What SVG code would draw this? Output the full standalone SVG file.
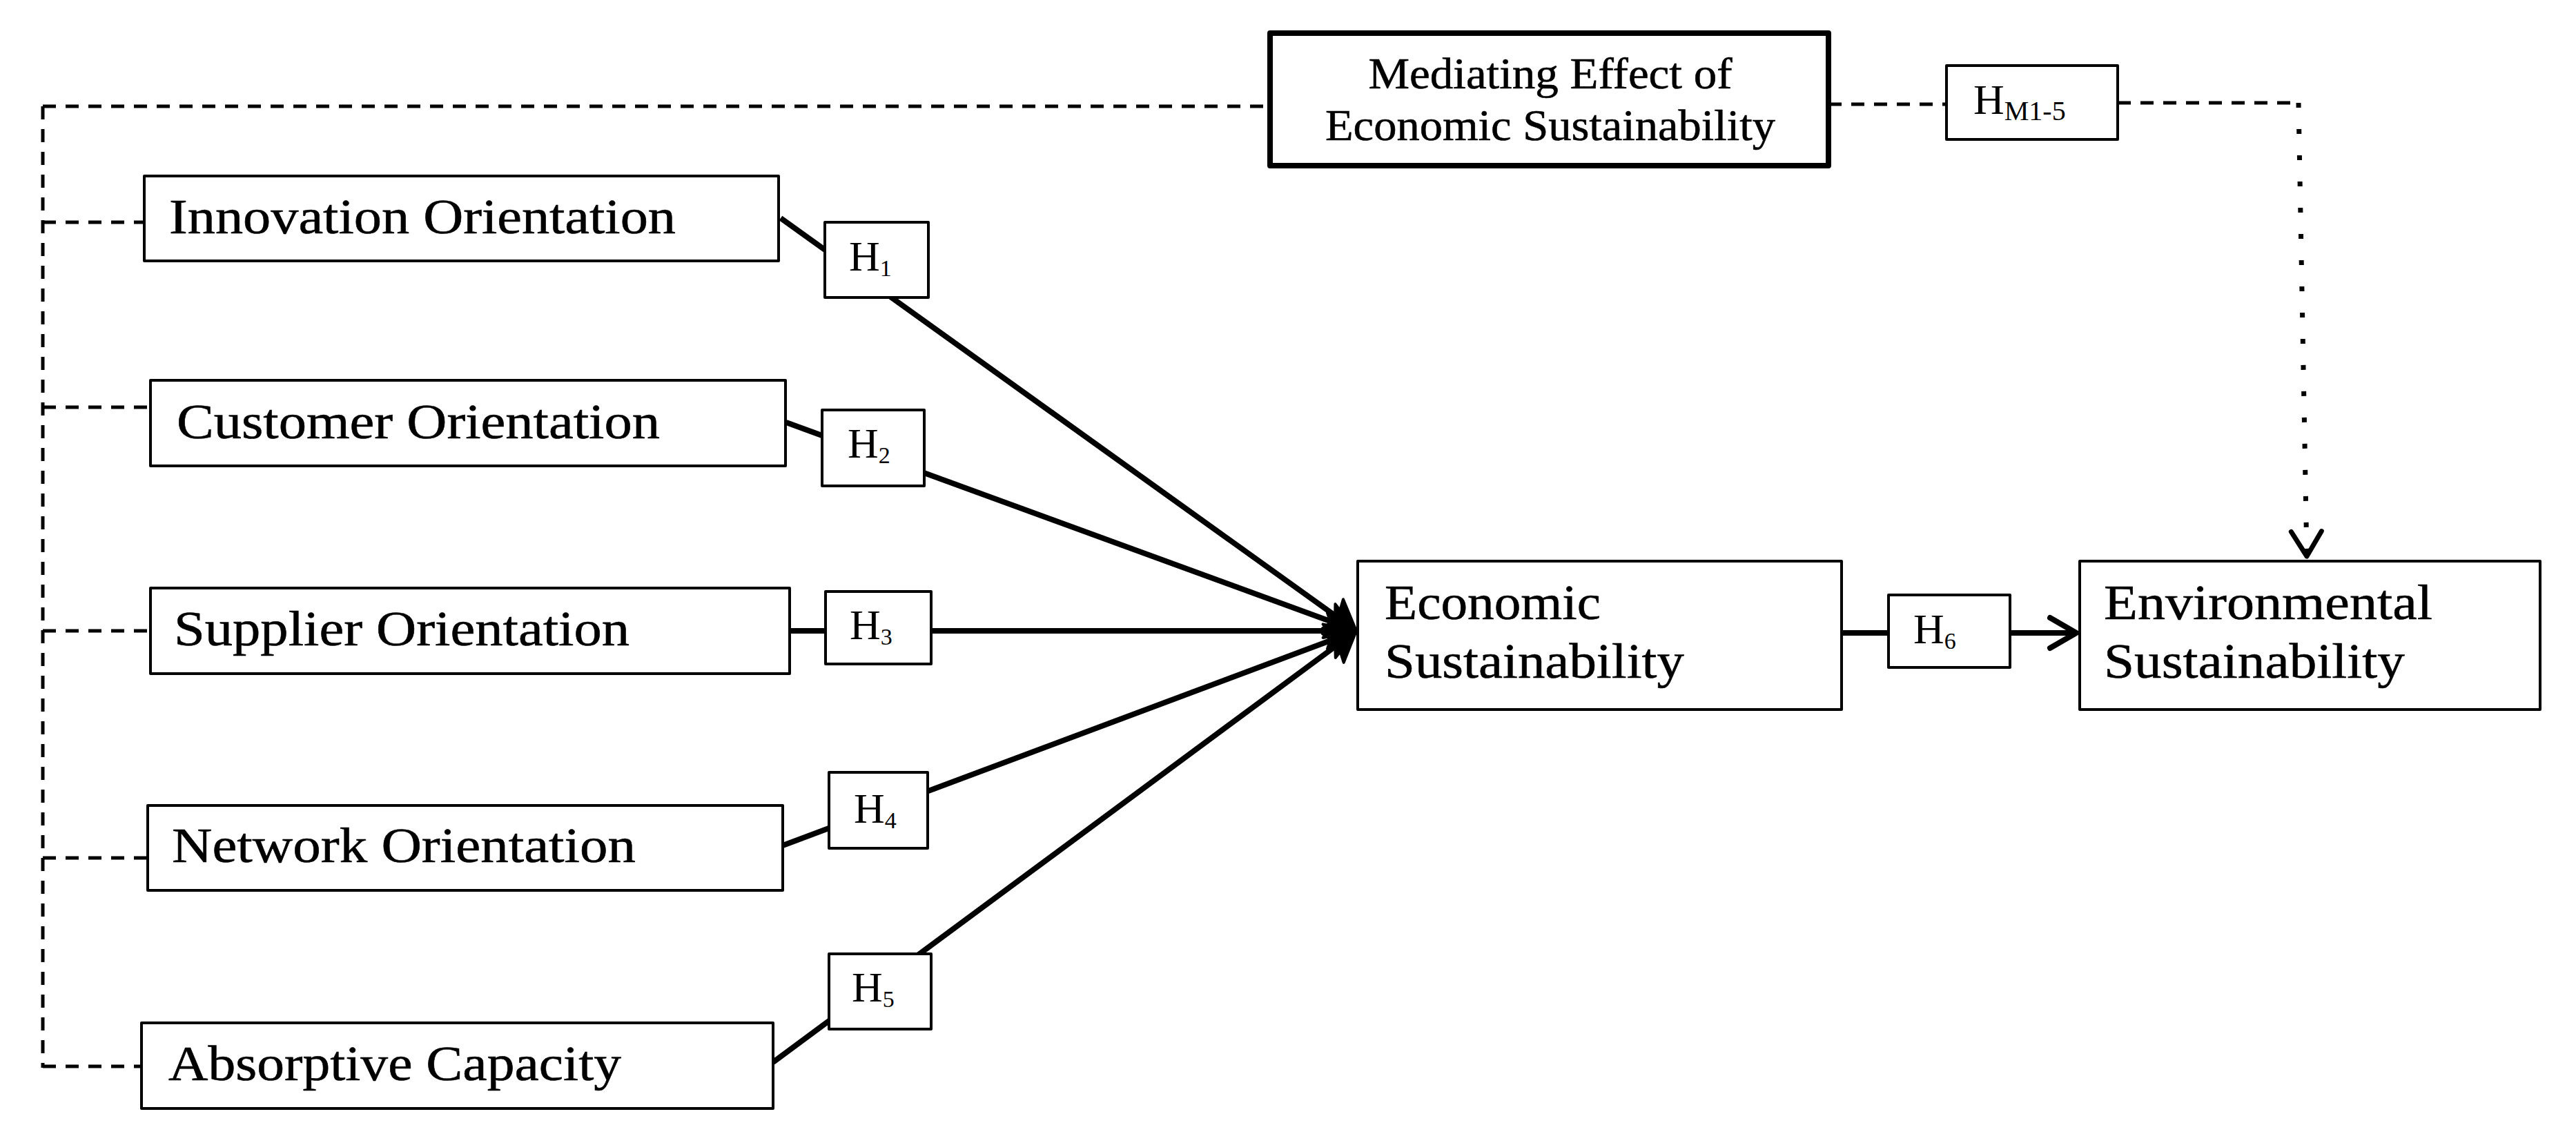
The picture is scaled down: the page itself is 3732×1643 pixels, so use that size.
<svg xmlns="http://www.w3.org/2000/svg" width="3732" height="1643" viewBox="0 0 3732 1643">
<style>
.box{fill:#fff;stroke:#000;stroke-width:4;stroke-linejoin:round}
.med{stroke-width:8}
.lbl{font-family:"Liberation Serif","Times New Roman",serif;font-size:72px;fill:#000;stroke:#000;stroke-width:0.6}
.mt{font-size:64px}
.h{font-family:"Liberation Serif","Times New Roman",serif;font-size:62px;fill:#000}
.sub{font-size:34px}
.subm{font-size:40px}
.dash{fill:none;stroke:#000;stroke-width:5;stroke-dasharray:19 14}
.solid{fill:none;stroke:#000;stroke-width:8}
.dot{fill:none;stroke:#000;stroke-width:7;stroke-dasharray:7 31}
</style>
<defs>
<marker id="fill" markerUnits="userSpaceOnUse" orient="auto" refX="0" refY="0" markerWidth="60" markerHeight="60" overflow="visible">
<path d="M20,0 L-22,-26 L-13,0 L-22,26 Z" fill="#000" stroke="#000" stroke-width="4" stroke-linejoin="round"/>
</marker>
<marker id="open" markerUnits="userSpaceOnUse" orient="auto" refX="0" refY="0" markerWidth="60" markerHeight="60" overflow="visible">
<path d="M-38,-22 L0,0 L-38,22" fill="none" stroke="#000" stroke-width="8" stroke-linejoin="round" stroke-linecap="round"/>
</marker>
<marker id="openDot" markerUnits="userSpaceOnUse" orient="auto" refX="0" refY="0" markerWidth="60" markerHeight="60" overflow="visible">
<path d="M-36,-22 L0,0 L-36,22" fill="none" stroke="#000" stroke-width="7" stroke-linejoin="round" stroke-linecap="round"/>
</marker>
</defs>
<rect width="3732" height="1643" fill="#fff"/>
<g id="connectors">
<path class="dash" d="M62,154 H1840"/>
<path class="dash" d="M62,154 V1547"/>
<path class="dash" d="M62,322 H209"/>
<path class="dash" d="M62,590 H218"/>
<path class="dash" d="M62,914 H218"/>
<path class="dash" d="M62,1243 H212"/>
<path class="dash" d="M62,1545 H205"/>
<path class="dash" d="M2649,151 H2820"/>
<path class="dash" d="M3068,149 H3330"/>
<path class="dot" d="M3330,149 L3342,806" marker-end="url(#openDot)"/>
<path class="solid" d="M1131,316 L1948.7,902.3" marker-end="url(#fill)"/>
<path class="solid" d="M1139,612 L1946.2,907.1" marker-end="url(#fill)"/>
<path class="solid" d="M1144,914 L1945,914" marker-end="url(#fill)"/>
<path class="solid" d="M1134,1225 L1946.3,921" marker-end="url(#fill)"/>
<path class="solid" d="M1120,1539 L1948.9,925.9" marker-end="url(#fill)"/>
<path class="solid" d="M2668,917 L3008,917" marker-end="url(#open)"/>
</g>
<g id="node-mediating">
<rect class="box med" x="1840" y="48" width="809" height="192"/>
<text class="lbl mt" x="2246" y="128" text-anchor="middle" textLength="527" lengthAdjust="spacingAndGlyphs">Mediating Effect of</text>
<text class="lbl mt" x="2246" y="203" text-anchor="middle" textLength="652" lengthAdjust="spacingAndGlyphs">Economic Sustainability</text>
</g>
<g id="node-hm">
<rect class="box" x="2820" y="95" width="248" height="107"/>
<text class="h" x="2859" y="165">H<tspan class="subm" dy="9">M1-5</tspan></text>
</g>
<g id="node-innovation">
<rect class="box" x="209" y="255" width="919" height="123"/>
<text class="lbl" x="245" y="338" textLength="734" lengthAdjust="spacingAndGlyphs">Innovation Orientation</text>
</g>
<g id="node-customer">
<rect class="box" x="218" y="551" width="920" height="124"/>
<text class="lbl" x="256" y="635" textLength="700" lengthAdjust="spacingAndGlyphs">Customer Orientation</text>
</g>
<g id="node-supplier">
<rect class="box" x="218" y="852" width="926" height="124"/>
<text class="lbl" x="252" y="935" textLength="660" lengthAdjust="spacingAndGlyphs">Supplier Orientation</text>
</g>
<g id="node-network">
<rect class="box" x="214" y="1167" width="920" height="123"/>
<text class="lbl" x="249" y="1249" textLength="672" lengthAdjust="spacingAndGlyphs">Network Orientation</text>
</g>
<g id="node-absorptive">
<rect class="box" x="205" y="1482" width="915" height="124"/>
<text class="lbl" x="244" y="1565" textLength="656" lengthAdjust="spacingAndGlyphs">Absorptive Capacity</text>
</g>
<g id="node-h1">
<rect class="box" x="1195" y="322" width="150" height="109"/>
<text class="h" x="1230" y="392">H<tspan class="sub" dy="8">1</tspan></text>
</g>
<g id="node-h2">
<rect class="box" x="1191" y="594" width="148" height="110"/>
<text class="h" x="1228" y="663">H<tspan class="sub" dy="8">2</tspan></text>
</g>
<g id="node-h3">
<rect class="box" x="1196" y="857" width="153" height="105"/>
<text class="h" x="1231" y="926">H<tspan class="sub" dy="8">3</tspan></text>
</g>
<g id="node-h4">
<rect class="box" x="1201" y="1119" width="143" height="110"/>
<text class="h" x="1237" y="1192">H<tspan class="sub" dy="8">4</tspan></text>
</g>
<g id="node-h5">
<rect class="box" x="1201" y="1382" width="148" height="109"/>
<text class="h" x="1234" y="1451">H<tspan class="sub" dy="8">5</tspan></text>
</g>
<g id="node-h6">
<rect class="box" x="2736" y="862" width="176" height="105"/>
<text class="h" x="2772" y="932">H<tspan class="sub" dy="8">6</tspan></text>
</g>
<g id="node-economic">
<rect class="box" x="1967" y="813" width="701" height="215"/>
<text class="lbl" x="2006" y="897" textLength="313" lengthAdjust="spacingAndGlyphs">Economic</text>
<text class="lbl" x="2006" y="982" textLength="434" lengthAdjust="spacingAndGlyphs">Sustainability</text>
</g>
<g id="node-environmental">
<rect class="box" x="3013" y="813" width="667" height="215"/>
<text class="lbl" x="3048" y="897" textLength="476" lengthAdjust="spacingAndGlyphs">Environmental</text>
<text class="lbl" x="3048" y="982" textLength="436" lengthAdjust="spacingAndGlyphs">Sustainability</text>
</g>
</svg>
